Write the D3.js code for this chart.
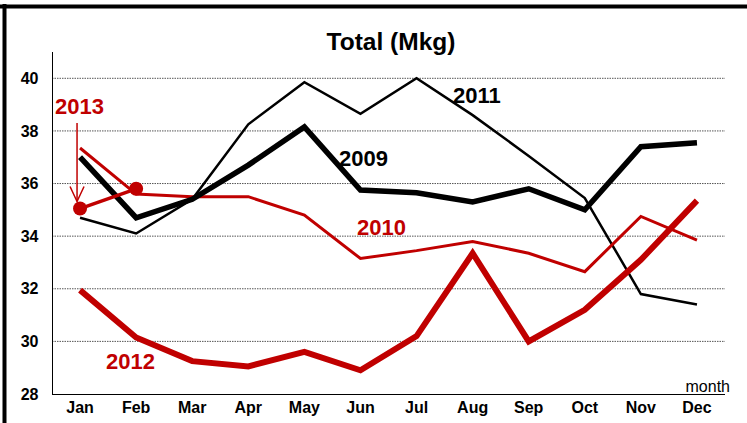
<!DOCTYPE html>
<html><head><meta charset="utf-8">
<script src="https://cdn.jsdelivr.net/npm/d3@7"></script>
<style>body{margin:0;background:#fff;}svg{display:block;font-family:"Liberation Sans",Arial,sans-serif;}</style>
</head><body><svg id="c" width="747" height="423"></svg>
<script>
const months = ["Jan","Feb","Mar","Apr","May","Jun","Jul","Aug","Sep","Oct","Nov","Dec"];
const yTicks = [28,30,32,34,36,38,40];
const s2009 = [37.0,34.7,35.4,36.7,38.15,35.75,35.65,35.3,35.8,35.0,37.4,37.55];
const s2010 = [37.35,35.6,35.5,35.5,34.8,33.15,33.45,33.8,33.35,32.65,34.75,33.85];
const s2011 = [34.7,34.1,35.4,38.25,39.85,38.65,40.0,38.6,37.05,35.45,31.8,31.4];
const s2012 = [31.95,30.15,29.25,29.05,29.6,28.9,30.2,33.35,30.0,31.2,33.1,35.35];
const s2013 = [35.05,35.8];

const svg = d3.select("#c");
const x = d3.scaleBand().domain(months).range([52,725]);
const y = d3.scaleLinear().domain([28,41]).range([394,52]);
const cx = m => x(m) + x.bandwidth()/2;

// border
svg.append("line").attr("x1",0).attr("x2",747).attr("y1",6.5).attr("y2",6.5).attr("stroke","#000").attr("stroke-width",4);
svg.append("line").attr("x1",4.5).attr("x2",4.5).attr("y1",4).attr("y2",423).attr("stroke","#000").attr("stroke-width",4);

// gridlines
svg.append("g").selectAll("line").data(yTicks.filter(d=>d>28)).join("line")
  .attr("x1",52).attr("x2",725).attr("y1",d=>y(d)).attr("y2",d=>y(d))
  .attr("stroke","#555").attr("stroke-width",1).attr("stroke-dasharray","1.5,1");

// axes
const ya = svg.append("g").attr("transform","translate(52.5,0)")
  .call(d3.axisLeft(y).tickValues(yTicks).tickSize(0).tickPadding(14));
ya.select(".domain").attr("d","M0,52V394.5").attr("stroke","#000");
ya.selectAll("text").attr("font-size",16).attr("font-weight","bold").attr("fill","#000").attr("font-family","Liberation Sans, Arial");

const xa = svg.append("g").attr("transform","translate(0,394.5)")
  .call(d3.axisBottom(x).tickSize(0).tickPadding(7));
xa.select(".domain").attr("d","M52,0H725").attr("stroke","#000");
xa.selectAll("text").attr("font-size",16).attr("font-weight","bold").attr("fill","#000").attr("font-family","Liberation Sans, Arial");

// title
svg.append("text").attr("x",391).attr("y",50).attr("text-anchor","middle")
  .attr("font-size",24.5).attr("font-weight","bold").text("Total (Mkg)");
svg.append("text").attr("x",730).attr("y",392).attr("text-anchor","end")
  .attr("font-size",16).text("month");

const line = d3.line().x((d,i)=>cx(months[i])).y(d=>y(d));
const red = "#c00000";
const series = [
  {d:s2011, c:"#000", w:2.5},
  {d:s2010, c:red, w:3},
  {d:s2009, c:"#000", w:5.5},
  {d:s2012, c:red, w:6},
  {d:s2013, c:red, w:3.5}
];
series.forEach(s=>{
  svg.append("path").datum(s.d).attr("d",line).attr("fill","none")
    .attr("stroke",s.c).attr("stroke-width",s.w).attr("stroke-linejoin","miter");
});
svg.append("g").selectAll("circle").data(s2013).join("circle")
  .attr("cx",(d,i)=>cx(months[i])).attr("cy",d=>y(d)).attr("r",7).attr("fill",red);

// arrow for 2013
const ax = cx("Jan")-3;
svg.append("line").attr("x1",ax).attr("x2",ax).attr("y1",123).attr("y2",y(s2013[0])-7)
  .attr("stroke",red).attr("stroke-width",1.5);
svg.append("path").attr("d",`M${ax-7},${y(s2013[0])-22}L${ax},${y(s2013[0])-7}L${ax+7},${y(s2013[0])-22}`)
  .attr("fill","none").attr("stroke",red).attr("stroke-width",1.5);

// labels
const lab = (t,xx,yy,c)=>svg.append("text").attr("x",xx).attr("y",yy).attr("font-size",22)
  .attr("font-weight","bold").attr("fill",c).text(t);
lab("2013",55,114,red);
lab("2011",453,103,"#000");
lab("2009",339,166,"#000");
lab("2010",357,235,red);
lab("2012",106,369,red);
</script></body></html>
